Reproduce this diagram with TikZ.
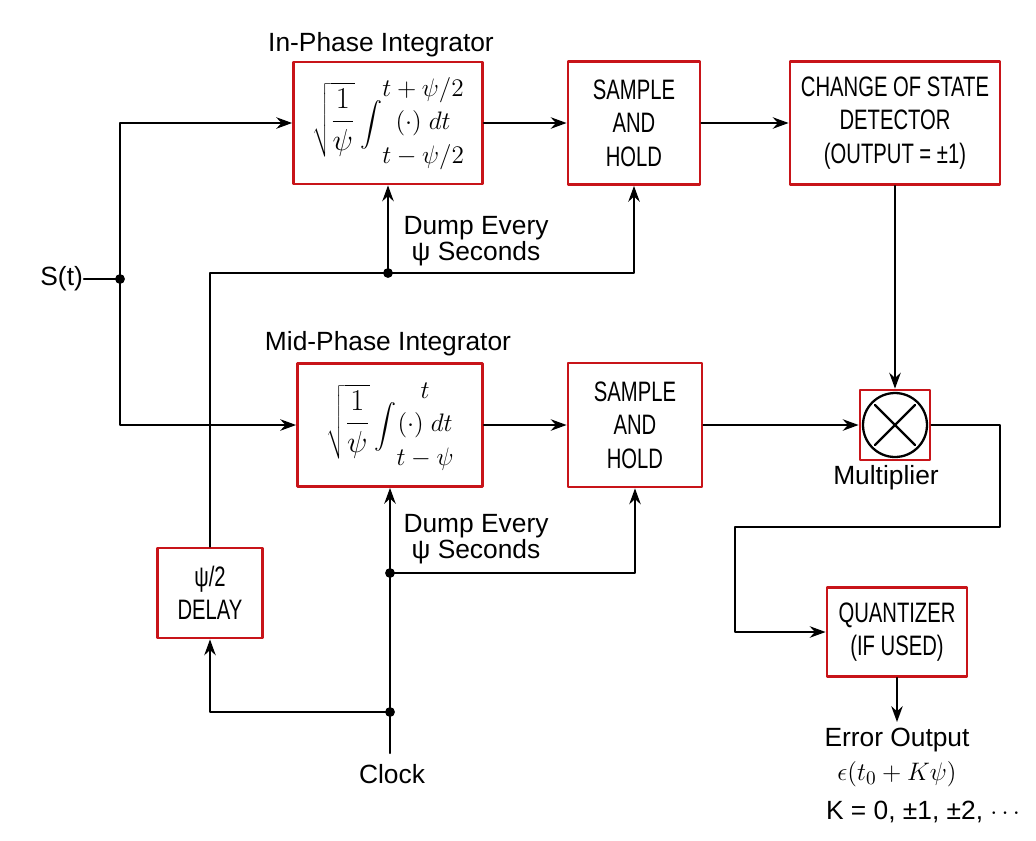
\documentclass[tikz,border=0pt]{standalone}
\usepackage{fontspec}
\usepackage{graphicx}
\setmainfont{Liberation Sans}
\newfontfamily\boxfont[FakeStretch=0.72]{Liberation Sans}
\usetikzlibrary{arrows.meta}
\definecolor{boxred}{RGB}{200,20,25}
\newcommand{\intgr}[2]{$\displaystyle\sqrt{\frac{1}{\psi}}\,\raisebox{-3pt}{\scalebox{1.25}{$\displaystyle\int$}}$%
	{\fontsize{14.4}{19}\selectfont$\begin{array}{@{}c@{}}#2\\(\cdot)\;dt\\#1\end{array}$}}

\begin{document}
\begin{tikzpicture}[x=0.02cm, y=-0.02cm, line join=round, line cap=round,
	>={Stealth[length=9pt,width=6.5pt]}, line width=1.3pt,
	block/.style={draw=boxred, line width=1.6pt, fill=white, align=center, inner sep=0pt,
		font=\boxfont\fontsize{16}{19}\selectfont},
	mathblock/.style={block, font=\fontsize{17}{20}\selectfont},
	lbl/.style={font=\fontsize{15}{15}\selectfont, align=center, inner sep=0pt}]
	\useasboundingbox (0,0) rectangle (1036,840);
	% blocks
	\node[mathblock, minimum width=3.78cm, minimum height=2.44cm] (inph) at (388,123) {\intgr{t-\psi/2}{t+\psi/2}};
	\node[block, minimum width=2.64cm, minimum height=2.46cm] (sh1) at (634,123) {SAMPLE\\AND\\HOLD};
	\node[block, minimum width=4.2cm, minimum height=2.46cm] (csd) at (895,123) {CHANGE OF STATE\\DETECTOR\\(OUTPUT = ±1)};
	\node[mathblock, minimum width=3.7cm, minimum height=2.46cm] (midph) at (390,425) {\intgr{t-\psi}{t}};
	\node[block, minimum width=2.68cm, minimum height=2.48cm] (sh2) at (635,425) {SAMPLE\\AND\\HOLD};
	\node[block, minimum size=1.4cm] (mult) at (895,425) {};
	\draw (mult.center) circle (0.64cm);
	\draw ([shift={(-0.4cm,0.4cm)}]mult.center) -- ([shift={(0.4cm,-0.4cm)}]mult.center);
	\draw ([shift={(-0.4cm,-0.4cm)}]mult.center) -- ([shift={(0.4cm,0.4cm)}]mult.center);
	\node[block, minimum width=2.8cm, minimum height=1.78cm] (quant) at (897,632) {QUANTIZER\\(IF USED)};
	\node[block, minimum width=2.1cm, minimum height=1.8cm] (delay) at (210,593) {ψ/2\\DELAY};
	% labels
	\node[lbl, anchor=east] (st) at (84,279) {S(t)};
	\node[lbl] (inlbl) at (381,45) {In-Phase Integrator};
	\node[lbl] (midlbl) at (388,344) {Mid-Phase Integrator};
	\node[lbl] (dump1) at (476,241) {Dump Every\\ψ Seconds};
	\node[lbl] (dump2) at (476,539) {Dump Every\\ψ Seconds};
	\node[lbl] (multlbl) at (886,478) {Multiplier};
	\node[lbl] (clock) at (392,774) {Clock};
	\node[lbl] (errlbl) at (897,740) {Error Output};
	\node[lbl] (errval) at (897,774) {$\epsilon(t_0+K\psi)$};
	\node[lbl] (klbl) at (923,812) {K = 0, ±1, ±2, $\cdots$};
	% junctions
	\coordinate (jS) at (120,279);
	\coordinate (j1) at (388,273);
	\coordinate (clk) at (390,753);
	\coordinate (j2) at (390,712);
	\coordinate (j3) at (390,573);
	\coordinate (c1) at (1000,527);
	\coordinate (c2) at (735,527);
	\coordinate (errend) at (897,722);
	% signal path
	\draw (st) -- (jS);
	\draw[->] (jS) |- (inph);
	\draw[->] (jS) |- (midph);
	\draw[->] (inph) -- (sh1);
	\draw[->] (sh1) -- (csd);
	\draw[->] (csd) -- (mult);
	\draw[->] (midph) -- (sh2);
	\draw[->] (sh2) -- (mult);
	\draw[->] (mult) -| (c1) -- (c2) |- (quant);
	\draw[->] (quant) -- (errend);
	% dump and clock lines
	\draw (delay) |- (j1);
	\draw[->] (j1) -- (inph);
	\draw[->] (j1) -| (sh1);
	\draw[->] (clk) -- (midph);
	\draw[->] (j2) -| (delay);
	\draw[->] (j3) -| (sh2);
	\foreach \p in {jS,j1,j2,j3} {\fill (\p) circle (2.8pt);}
\end{tikzpicture}
\end{document}
